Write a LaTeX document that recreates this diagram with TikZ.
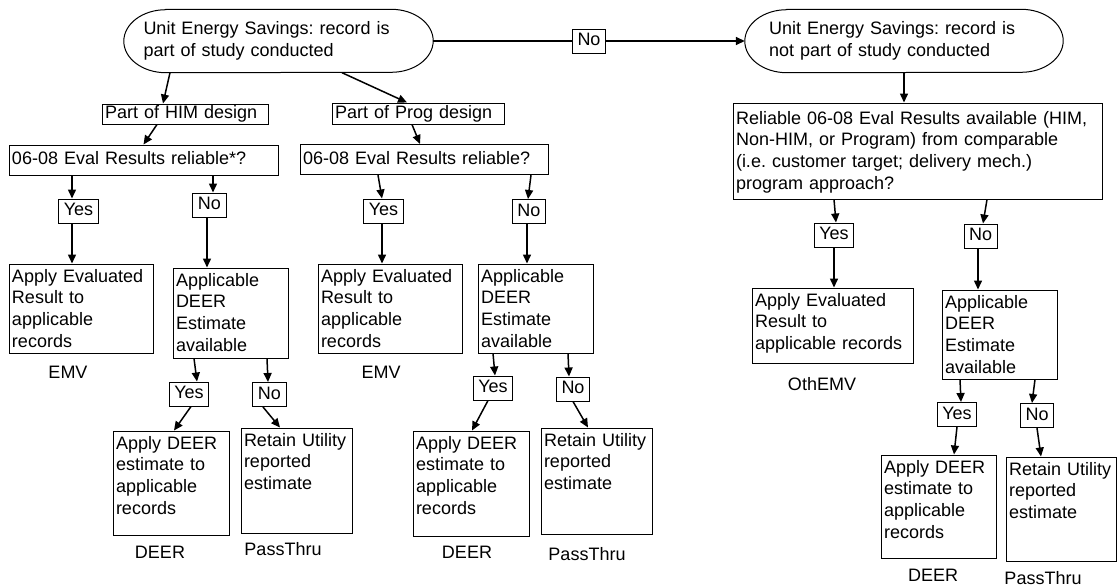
\documentclass[tikz,border=0pt]{standalone}
\usepackage{fontspec}
\setmainfont{Liberation Sans}
\frenchspacing
\usetikzlibrary{arrows.meta, positioning}
\tikzset{
  startbox/.style={rectangle, align=left, text width=270pt, inner xsep=0pt, inner ysep=2pt, minimum height=63pt, minimum width=309pt},
  bar/.style={draw, line width=1pt, align=left, inner xsep=3pt, inner ysep=1.5pt, text height=13pt, text depth=4pt},
  cardbox/.style 2 args={draw, line width=1pt, align=left, inner xsep=3pt, inner ysep=3pt, text height=15pt, text width=#1, text depth=#2},
  answer/.style={draw, line width=1pt, inner xsep=5pt, inner ysep=1.5pt, text height=13pt, text depth=4pt, minimum height=24pt},
  outcome/.style={inner sep=0pt},
  flowarr/.style={-{Triangle[length=9pt, width=8pt]}, line width=1.5pt},
}
\newcommand{\ovalrim}[1]{%
  \draw[line width=1pt] ([xshift=42pt]#1.north west) -- ([xshift=-42pt]#1.north east)
    arc[start angle=90, end angle=-90, x radius=42pt, y radius=31.5pt]
    -- ([xshift=42pt]#1.south west)
    arc[start angle=270, end angle=90, x radius=42pt, y radius=31.5pt] -- cycle;}
\begin{document}
\begin{tikzpicture}[x=1pt, y=-1pt, font=\fontsize{18}{21.7}\selectfont]
  \useasboundingbox (0,0) rectangle (1117,587);

  \node[startbox] (s1) at (278.5,41) {Unit Energy Savings: record is\\part of study conducted};
  \node[startbox, minimum width=318pt] (s2) at (904,41) {Unit Energy Savings: record is\\not part of study conducted};
  \ovalrim{s1}
  \ovalrim{s2}
  \node[answer] (topno) at (589,41) {No};

  \node[bar, text width=160pt] (him) at (185,114) {Part of HIM design};
  \node[bar, text width=166pt, minimum height=21pt] (prog) at (418,113.5) {Part of Prog design};
  \node[bar, text width=263pt, minimum height=30pt] (eval1) at (143.5,160) {06-08 Eval Results reliable*?};
  \node[bar, text width=242pt, minimum height=30pt] (eval2) at (424,159.5) {06-08 Eval Results reliable?};
  \node[cardbox={363pt}{72pt}, text height=18pt] (eval3) at (917.5,151)
    {Reliable 06-08 Eval Results available (HIM,\\Non-HIM, or Program) from comparable\\(i.e. customer target; delivery mech.)\\program approach?};

  \node[answer] (yes1) at (78.5,211) {Yes};
  \node[answer] (no1) at (209.5,205) {No};
  \node[answer] (yes2) at (383.5,211) {Yes};
  \node[answer] (no2) at (529,211.5) {No};
  \node[answer] (yes3) at (834,235) {Yes};
  \node[answer] (no3) at (980.5,236) {No};

  \node[cardbox={138pt}{68pt}] (apply1) at (81,308.5) {Apply Evaluated\\Result to\\applicable\\records};
  \node[cardbox={109pt}{69pt}] (deer1) at (230.5,313) {Applicable\\DEER\\Estimate\\available};
  \node[cardbox={138pt}{68pt}] (apply2) at (390,308.5) {Apply Evaluated\\Result to\\applicable\\records};
  \node[cardbox={109pt}{68pt}] (deer2) at (535.5,308.5) {Applicable\\DEER\\Estimate\\available};
  \node[cardbox={155pt}{54pt}] (apply3) at (832.5,325.5) {Apply Evaluated\\Result to\\applicable records};
  \node[cardbox={109pt}{68pt}] (deer3) at (999.5,334.5) {Applicable\\DEER\\Estimate\\available};

  \node[answer] (yes1b) at (189,394) {Yes};
  \node[answer] (no1b) at (269.5,394.5) {No};
  \node[answer] (yes2b) at (493,388) {Yes};
  \node[answer] (no2b) at (573,389) {No};
  \node[answer] (yes3b) at (957,414.5) {Yes};
  \node[answer] (no3b) at (1037,415.5) {No};

  \node[cardbox={110pt}{83pt}] (adeer1) at (171,483) {Apply DEER\\estimate to\\applicable\\records};
  \node[cardbox={105pt}{84pt}] (keep1) at (296.5,480.5) {Retain Utility\\reported\\estimate};
  \node[cardbox={110pt}{84pt}] (adeer2) at (471,483.5) {Apply DEER\\estimate to\\applicable\\records};
  \node[cardbox={105pt}{85pt}] (keep2) at (596.5,481) {Retain Utility\\reported\\estimate};
  \node[cardbox={109pt}{82pt}] (adeer3) at (938.5,506.5) {Apply DEER\\estimate to\\applicable\\records};
  \node[cardbox={104pt}{83pt}] (keep3) at (1061,509) {Retain Utility\\reported\\estimate};

  \node[outcome, below=12.5pt of apply1.south, xshift=-13pt] (emv1) {EMV};
  \node[outcome, below=12.5pt of apply2.south, xshift=-9pt] (emv2) {EMV};
  \node[outcome, below=13.5pt of apply3.south, xshift=-10.5pt] (othemv) {OthEMV};
  \node[outcome, below=10.5pt of adeer1.south, xshift=-11pt] (deerlbl1) {DEER};
  \node[outcome, below=8.5pt of keep1.south, xshift=-13.5pt] (pass1) {PassThru};
  \node[outcome, below=9.5pt of adeer2.south, xshift=-4pt] (deerlbl2) {DEER};
  \node[outcome, below=12.5pt of keep2.south, xshift=-9.5pt] (pass2) {PassThru};
  \node[outcome, below=10.5pt of adeer3.south, xshift=-5.5pt] (deerlbl3) {DEER};
  \node[outcome, below=9.5pt of keep3.south, xshift=-18pt] (pass3) {PassThru};

  \draw[flowarr] ([xshift=-108.5pt]s1.south) -- ([xshift=-22pt]him.north);
  \draw[flowarr] ([xshift=63.5pt]s1.south) -- ([xshift=-11pt]prog.north);
  \draw[line width=1.5pt] (s1) -- (topno);
  \draw[flowarr] (topno) -- (s2);
  \draw[flowarr] (s2.south) -- (s2.south |- eval3.north);
  \draw[flowarr] ([xshift=-28pt]him.south) -- (eval1.north);
  \draw[flowarr] ([xshift=-6pt]prog.south) -- ([xshift=-4pt]eval2.north);

  \draw[flowarr] ([xshift=-6.5pt]yes1.north |- eval1.south) -- ([xshift=-6.5pt]yes1.north);
  \draw[flowarr] ([xshift=-6.5pt]yes1.south) -- ([xshift=-6.5pt]yes1.south |- apply1.north);
  \draw[flowarr] ([xshift=3.5pt]no1.north |- eval1.south) -- ([xshift=3.5pt]no1.north);
  \draw[flowarr] ([xshift=-2.5pt]no1.south) -- ([xshift=-2.5pt]no1.south |- deer1.north);
  \draw[flowarr] ([xshift=-5.5pt]yes2.north |- eval2.south) -- ([xshift=-1.5pt]yes2.north);
  \draw[flowarr] ([xshift=-1.5pt]yes2.south) -- ([xshift=-1.5pt]yes2.south |- apply2.north);
  \draw[flowarr] ([xshift=2pt]no2.north |- eval2.south) -- ([xshift=-1pt]no2.north);
  \draw[flowarr] ([xshift=-2pt]no2.south) -- ([xshift=-2pt]no2.south |- deer2.north);
  \draw[flowarr] (yes3.north |- eval3.south) -- ([xshift=2pt]yes3.north);
  \draw[flowarr] (yes3.south) -- (yes3.south |- apply3.north);
  \draw[flowarr] ([xshift=6.5pt]no3.north |- eval3.south) -- ([xshift=2.5pt]no3.north);
  \draw[flowarr] ([xshift=-2.5pt]no3.south) -- ([xshift=-2.5pt]no3.south |- deer3.north);

  \draw[flowarr] ([xshift=5pt]yes1b.north |- deer1.south) -- ([xshift=8pt]yes1b.north);
  \draw[flowarr] ([xshift=-2.5pt]no1b.north |- deer1.south) -- ([xshift=-1.5pt]no1b.north);
  \draw[flowarr] ([xshift=2pt]yes1b.south) -- ([xshift=3pt]adeer1.north);
  \draw[flowarr] ([xshift=-6.5pt]no1b.south) -- ([xshift=-16.5pt]keep1.north);
  \draw[flowarr] (yes2b.north |- deer2.south) -- ([xshift=2pt]yes2b.north);
  \draw[flowarr] ([xshift=-5pt]no2b.north |- deer2.south) -- ([xshift=-4pt]no2b.north);
  \draw[flowarr] ([xshift=-5pt]yes2b.south) -- ([xshift=1pt]adeer2.north);
  \draw[flowarr] (no2b.south) -- ([xshift=-8.5pt]keep2.north);
  \draw[flowarr] ([xshift=3pt]yes3b.north |- deer3.south) -- ([xshift=4pt]yes3b.north);
  \draw[flowarr] ([xshift=-2pt]no3b.north |- deer3.south) -- ([xshift=-5pt]no3b.north);
  \draw[flowarr] (yes3b.south) -- ([xshift=15.5pt]adeer3.north);
  \draw[flowarr] (no3b.south) -- ([xshift=-20pt]keep3.north);
\end{tikzpicture}
\end{document}
